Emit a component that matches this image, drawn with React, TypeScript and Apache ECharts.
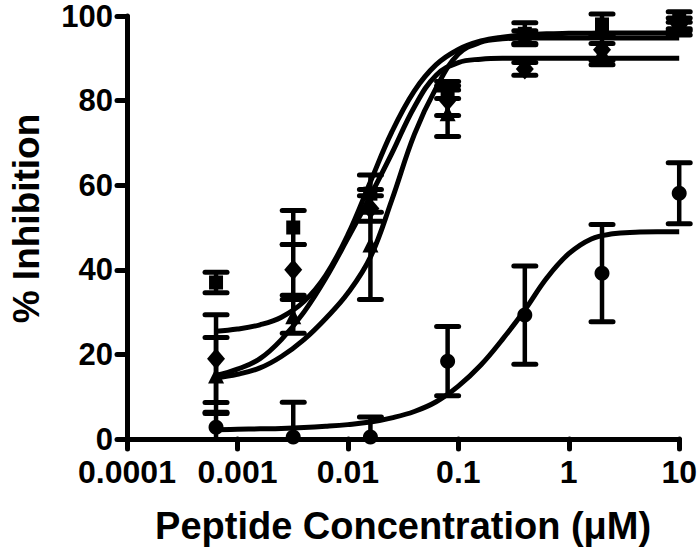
import React, { useEffect, useRef } from "react";
import * as echarts from "echarts";

// Tick labels
const xTickLabels = ["0.0001", "0.001", "0.01", "0.1", "1", "10"];
const yTicks = [0, 20, 40, 60, 80, 100];

// Measured concentrations (µM)
const xData = [0.00064, 0.0032, 0.016, 0.08, 0.4, 2, 10];

// Squares
const squareMean = [37, 50, 58, 82.5, 95.8, 98, 99];
const squareErr = [2.4, 4, 4.4, 2, 2.6, 2.5, 2];
// Diamonds
const diamondMean = [19, 40, 54.5, 80, 87.5, 92, 98];
const diamondErr = [10.4, 6, 3, 3.5, 1.5, 3.5, 1.5];
// Triangles
const triangleMean = [15, 29, 46, 77, 95, 91.5, 97];
const triangleErr = [9, 4, 13, 5.5, 1.5, 2, 1.5];
// Circles
const circleMean = [2.8, 0.5, 0.5, 18.4, 29.3, 39.2, 58.1];
const circleErr = [3.5, 8.2, 4.7, 8.2, 11.6, 11.5, 7.2];

// Fitted curves
const xCurve = [0.00064, 0.001, 0.0016, 0.0025, 0.004, 0.0063, 0.01, 0.016, 0.025, 0.04, 0.063, 0.1, 0.16, 0.25, 0.4, 0.63, 1, 1.6, 2.5, 4, 6.3, 10];
const curveA = [25.5, 26.0, 27.0, 28.8, 32.5, 38.7, 48.3, 60.8, 72.6, 82.3, 88.5, 92.1, 94.1, 95.0, 95.5, 95.8, 95.9, 95.95, 96, 96, 96, 96];
const curveB = [15, 16.5, 19, 23.5, 30, 38, 47.5, 57.5, 67.5, 78.5, 86, 89, 89.8, 90, 90, 90, 90, 90, 90, 90, 90, 90];
const curveC = [14.5, 15.3, 16.8, 19.5, 23.5, 28.5, 34.5, 43, 56.5, 72, 83, 91, 93.8, 94.6, 94.8, 94.8, 94.8, 94.8, 94.8, 94.8, 94.8, 94.8];
const curveD = [2.2, 2.3, 2.4, 2.5, 2.7, 3.0, 3.4, 4.0, 5.0, 6.5, 8.8, 12.5, 17.5, 23.5, 30.5, 38, 43.8, 47.3, 48.5, 48.9, 49, 49];

const FONT = "Liberation Sans";

function errSeries(mean: number[], err: number[]) {
  return {
    type: "custom",
    z: 1,
    data: xData.map((x, i) => [x, mean[i], err[i]]),
    renderItem: (params: any, api: any) => {
      const x = api.value(0);
      const y = api.value(1);
      const e = api.value(2);
      const hi = y + e;
      const loRaw = y - e;
      const lo = Math.max(loRaw, 0);
      const pHi = api.coord([x, hi]);
      const pLo = api.coord([x, lo]);
      const half = 11;
      const children: any[] = [
        {
          type: "line",
          shape: { x1: pHi[0], y1: pHi[1], x2: pLo[0], y2: pLo[1] },
          style: { stroke: "#000", lineWidth: 4.5 },
        },
        {
          type: "line",
          shape: { x1: pHi[0] - half, y1: pHi[1], x2: pHi[0] + half, y2: pHi[1] },
          style: { stroke: "#000", lineWidth: 5, lineCap: "round" },
        },
      ];
      if (loRaw > 0) {
        children.push({
          type: "line",
          shape: { x1: pLo[0] - half, y1: pLo[1], x2: pLo[0] + half, y2: pLo[1] },
          style: { stroke: "#000", lineWidth: 5, lineCap: "round" },
        });
      }
      return { type: "group", children };
    },
  };
}

function pointSeries(mean: number[], symbol: string, size: any) {
  return {
    type: "scatter",
    z: 2,
    symbol,
    symbolSize: size,
    itemStyle: { color: "#000", opacity: 1 },
    emphasis: { disabled: true },
    data: xData.map((x, i) => [x, mean[i]]),
  };
}

function curveSeries(vals: number[]) {
  return {
    type: "line",
    z: 3,
    smooth: 0.4,
    symbol: "none",
    lineStyle: { color: "#000", width: 5, opacity: 1 },
    data: xCurve.map((x, i) => [x, vals[i]]),
  };
}

export default function App() {
  const ref = useRef<HTMLDivElement>(null);
  useEffect(() => {
    if (!ref.current) return;
    const chart = echarts.init(ref.current, undefined, { renderer: "svg" });
    const axisLine = { show: true, lineStyle: { color: "#000", width: 5 } };
    const axisTick = { show: true, length: 10, lineStyle: { color: "#000", width: 5, cap: "round" } };
    chart.setOption({
      animation: false,
      backgroundColor: "#fff",
      grid: { left: 110, right: 18, top: 16, bottom: 110, containLabel: false },
      xAxis: {
        type: "log",
        logBase: 10,
        min: 0.0001,
        max: 10,
        axisLine,
        axisTick,
        minorTick: { show: false },
        splitLine: { show: false },
        axisLabel: {
          margin: 20,
          color: "#000",
          fontFamily: FONT,
          fontWeight: "bold",
          fontSize: 32,
          lineHeight: 26,
          formatter: (v: number) => {
            const e = Math.round(Math.log10(v));
            return xTickLabels[e + 4] ?? "";
          },
        },
        name: "Peptide Concentration (\u03bcM)",
        nameLocation: "middle",
        nameGap: 68,
        nameTextStyle: { color: "#000", fontFamily: FONT, fontWeight: "bold", fontSize: 38 },
      },
      yAxis: {
        type: "value",
        min: 0,
        max: 100,
        interval: 20,
        axisLine,
        axisTick,
        splitLine: { show: false },
        axisLabel: {
          margin: 14,
          color: "#000",
          fontFamily: FONT,
          fontWeight: "bold",
          fontSize: 31,
          lineHeight: 26,
          formatter: (v: number) => (yTicks.includes(v) ? String(v) : ""),
        },
        name: "% Inhibition",
        nameLocation: "middle",
        nameGap: 82,
        nameTextStyle: {
          color: "#000",
          fontFamily: FONT,
          fontWeight: "bold",
          fontSize: 37,
          padding: [0, 0, 0, 18],
        },
      },
      series: [
        errSeries(squareMean, squareErr),
        errSeries(diamondMean, diamondErr),
        errSeries(triangleMean, triangleErr),
        errSeries(circleMean, circleErr),
        pointSeries(squareMean, "rect", 14),
        pointSeries(diamondMean, "diamond", [18, 21]),
        pointSeries(triangleMean, "triangle", 16),
        pointSeries(circleMean, "circle", 15),
        curveSeries(curveA),
        curveSeries(curveB),
        curveSeries(curveC),
        curveSeries(curveD),
      ],
    });
    return () => chart.dispose();
  }, []);
  return (
    <div
      ref={ref}
      style={{ position: "fixed", left: 0, top: 0, width: 700, height: 550, background: "#fff" }}
    />
  );
}
